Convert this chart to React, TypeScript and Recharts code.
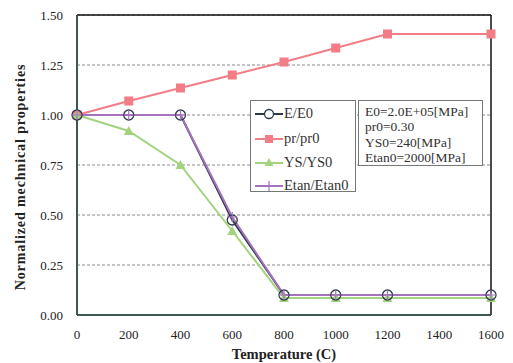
import { LineChart, Line, XAxis, YAxis, CartesianGrid, ReferenceLine } from 'recharts';

const temps = [0, 200, 400, 600, 800, 1000, 1200, 1600];
const eRatio = [1.0, 1.0, 1.0, 0.475, 0.1, 0.1, 0.1, 0.1];
const prRatio = [1.0, 1.07, 1.135, 1.2, 1.265, 1.335, 1.405, 1.405];
const ysRatio = [1.0, 0.92, 0.75, 0.42, 0.085, 0.085, 0.085, 0.085];
const etanRatio = [1.0, 1.0, 1.0, 0.49, 0.1, 0.1, 0.1, 0.1];

const xTicks = [0, 200, 400, 600, 800, 1000, 1200, 1400, 1600];
const yTicks = [0, 0.25, 0.5, 0.75, 1.0, 1.25, 1.5];

const baseProps = ['E0=2.0E+05[MPa]', 'pr0=0.30', 'YS0=240[MPa]', 'Etan0=2000[MPa]'];

const data = temps.map((t, i) => ({
  t,
  e: eRatio[i],
  pr: prRatio[i],
  ys: ysRatio[i],
  etan: etanRatio[i],
}));

const FONT = '"Liberation Serif", "DejaVu Serif", serif';
const C_E = '#2b3a48';
const C_PR = '#f27d86';
const C_YS = '#a3d37f';
const C_ETAN = '#a572bd';

const Circle = (p: any) => (
  <circle key={p.key} cx={p.cx} cy={p.cy} r={5} fill="none" stroke={C_E} strokeWidth={1.3} />
);
const Square = (p: any) => (
  <rect key={p.key} x={p.cx - 4.5} y={p.cy - 4.5} width={9} height={9} fill={C_PR} />
);
const Tri = (p: any) => (
  <path key={p.key} d={`M${p.cx},${p.cy - 5} L${p.cx + 5},${p.cy + 4} L${p.cx - 5},${p.cy + 4} Z`} fill={C_YS} />
);
const Plus = (p: any) => (
  <path key={p.key} d={`M${p.cx - 5},${p.cy} H${p.cx + 5} M${p.cx},${p.cy - 5} V${p.cy + 5}`} stroke={C_ETAN} strokeWidth={1.2} />
);

const legendItems = [
  { name: 'E/E0', color: C_E, kind: 'circle' },
  { name: 'pr/pr0', color: C_PR, kind: 'square' },
  { name: 'YS/YS0', color: C_YS, kind: 'tri' },
  { name: 'Etan/Etan0', color: C_ETAN, kind: 'plus' },
];
const rowHeights = [25, 25, 23, 23];

function LegendIcon({ kind, color }: { kind: string; color: string }) {
  return (
    <svg width={28} height={12} style={{ marginRight: 1 }}>
      <line x1={0} y1={6} x2={28} y2={6} stroke={color} strokeWidth={2} />
      {kind === 'circle' && <circle cx={14} cy={6} r={4.5} fill="white" stroke={color} strokeWidth={1.3} />}
      {kind === 'square' && <rect x={10} y={2} width={8} height={8} fill={color} />}
      {kind === 'tri' && <path d="M14,1 L18.5,9 L9.5,9 Z" fill={color} />}
      {kind === 'plus' && <path d="M9,6 H19 M14,1 V11" stroke={color} strokeWidth={1.2} />}
    </svg>
  );
}

const YLabel = ({ viewBox }: any) => {
  const x = viewBox.x - 17;
  const y = viewBox.y + viewBox.height / 2 + 12;
  return (
    <text
      x={x}
      y={y}
      transform={`rotate(-90 ${x} ${y})`}
      textAnchor="middle"
      dominantBaseline="central"
      style={{ fontSize: 14, fontWeight: 'bold', fill: '#222', fontFamily: FONT, letterSpacing: 0.9 }}
    >
      Normalized mechnical properties
    </text>
  );
};

export default function App() {
  return (
    <div style={{ position: 'absolute', left: 0, top: 0, width: 513, height: 363, background: '#fff', fontFamily: FONT }}>
      <LineChart width={513} height={363} data={data} margin={{ top: 15, right: 22, bottom: 18, left: 37 }}>
        <CartesianGrid vertical={false} strokeDasharray="3 2" stroke="#8a8a8a" />
        <XAxis
          dataKey="t"
          type="number"
          domain={[0, 1600]}
          ticks={xTicks}
          tickLine={false}
          tickMargin={9}
          axisLine={{ stroke: '#3d5853', strokeWidth: 2 }}
          tick={{ fontSize: 13, fill: '#222', fontFamily: FONT }}
          label={{ value: 'Temperature (C)', position: 'bottom', offset: 4, style: { fontSize: 14.5, fontWeight: 'bold', fill: '#222', fontFamily: FONT } }}
        />
        <YAxis
          domain={[0, 1.5]}
          ticks={yTicks}
          width={40}
          tickLine={false}
          tickMargin={8}
          axisLine={{ stroke: '#3d5853', strokeWidth: 2 }}
          tickFormatter={(v: number) => v.toFixed(2)}
          tick={{ fontSize: 13, fill: '#222', fontFamily: FONT }}
          label={<YLabel />}
        />
        <ReferenceLine y={1.5} stroke="#111" strokeWidth={1.5} />
        <ReferenceLine x={1600} stroke="#111" strokeWidth={1.5} />
        <Line dataKey="pr" stroke={C_PR} strokeWidth={2} dot={Square} isAnimationActive={false} />
        <Line dataKey="ys" stroke={C_YS} strokeWidth={2} dot={Tri} isAnimationActive={false} />
        <Line dataKey="e" stroke={C_E} strokeWidth={2} dot={Circle} isAnimationActive={false} />
        <Line dataKey="etan" stroke={C_ETAN} strokeWidth={2} dot={Plus} isAnimationActive={false} />
      </LineChart>

      <div
        style={{
          position: 'absolute', left: 250, top: 100, width: 106, height: 92,
          background: '#fff', border: '1px solid #777', boxSizing: 'border-box',
          padding: '0 0 0 4px', fontSize: 14.5, color: '#333',
        }}
      >
        {legendItems.map((it, i) => (
          <div key={it.name} style={{ display: 'flex', alignItems: 'center', height: rowHeights[i] }}>
            <LegendIcon kind={it.kind} color={it.color} />
            <span>{it.name}</span>
          </div>
        ))}
      </div>

      <div
        style={{
          position: 'absolute', left: 358, top: 100, width: 125, height: 66,
          background: '#fff', border: '1px solid #777', boxSizing: 'border-box',
          padding: '3px 0 0 6px', fontSize: 13.5, lineHeight: '15.3px', color: '#333',
        }}
      >
        {baseProps.map((s) => (
          <div key={s}>{s}</div>
        ))}
      </div>
    </div>
  );
}
